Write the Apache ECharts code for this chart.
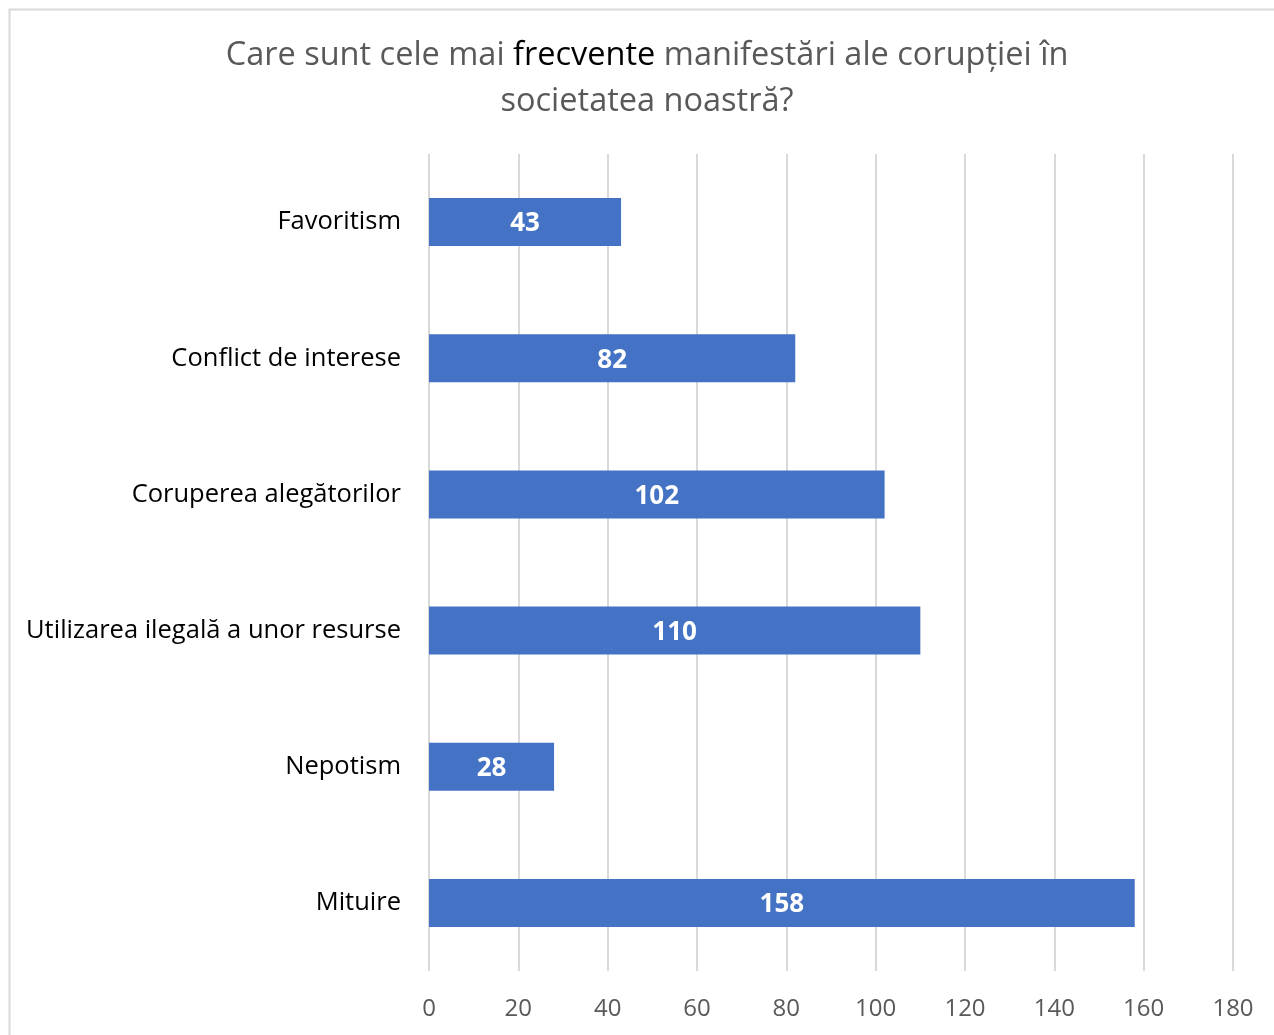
<!DOCTYPE html>
<html>
<head>
<meta charset="utf-8">
<script src="https://cdn.jsdelivr.net/npm/echarts@6/dist/echarts.min.js"></script>
<style>
  html, body { margin: 0; padding: 0; background: #fff; }
  #main { width: 1274px; height: 1035px; }
</style>
</head>
<body>
<div id="main"></div>
<script>
  // categories top to bottom
  const categories = ['Favoritism', 'Conflict de interese', 'Coruperea alegătorilor',
    'Utilizarea ilegală a unor resurse', 'Nepotism', 'Mituire'];
  const values = [43, 82, 102, 110, 28, 158];
  const xTicks = [0, 180, 20]; // min, max, step

  const FONT = '"Open Sans", "Noto Sans", sans-serif';

  let myChart = echarts.init(document.getElementById('main'));
  myChart.setOption({
    animation: false,
    graphic: [{
      type: 'rect',
      shape: { x: 9.5, y: 9.5, width: 1400, height: 1200 },
      style: { fill: 'none', stroke: '#d9d9d9', lineWidth: 2 },
      silent: true
    }],
    title: {
      text: '{a|Care sunt cele mai }{b|frecvente}{a| manifestări ale corupției în}\n{a|societatea noastră?}',
      left: 642,
      top: 28,
      textAlign: 'center',
      textStyle: {
        fontWeight: 'normal',
        rich: {
          a: { fontSize: 32.5, fontWeight: 'normal', color: '#595959', fontFamily: FONT, lineHeight: 46 },
          b: { fontSize: 32.5, fontWeight: 'normal', color: '#000000', fontFamily: FONT, lineHeight: 46 }
        }
      }
    },
    grid: { left: 429, right: 41, top: 154, bottom: 64 },
    xAxis: {
      type: 'value',
      min: xTicks[0],
      max: xTicks[1],
      interval: xTicks[2],
      axisLine: { show: false },
      axisTick: { show: false },
      splitLine: { show: true, lineStyle: { color: '#d9d9d9', width: 2 } },
      axisLabel: { fontSize: 24, color: '#595959', fontFamily: FONT, margin: 26 }
    },
    yAxis: {
      type: 'category',
      inverse: true,
      data: categories,
      axisLine: { show: false },
      axisTick: { show: false },
      axisLabel: { fontSize: 25.5, color: '#000000', fontFamily: FONT, margin: 28 }
    },
    series: [{
      type: 'bar',
      data: values,
      barWidth: 48,
      itemStyle: { color: '#4472C4' },
      label: {
        show: true,
        position: 'inside',
        offset: [0, 2],
        color: '#ffffff',
        fontWeight: 'bold',
        fontSize: 26,
        fontFamily: FONT
      }
    }]
  });
</script>
</body>
</html>
